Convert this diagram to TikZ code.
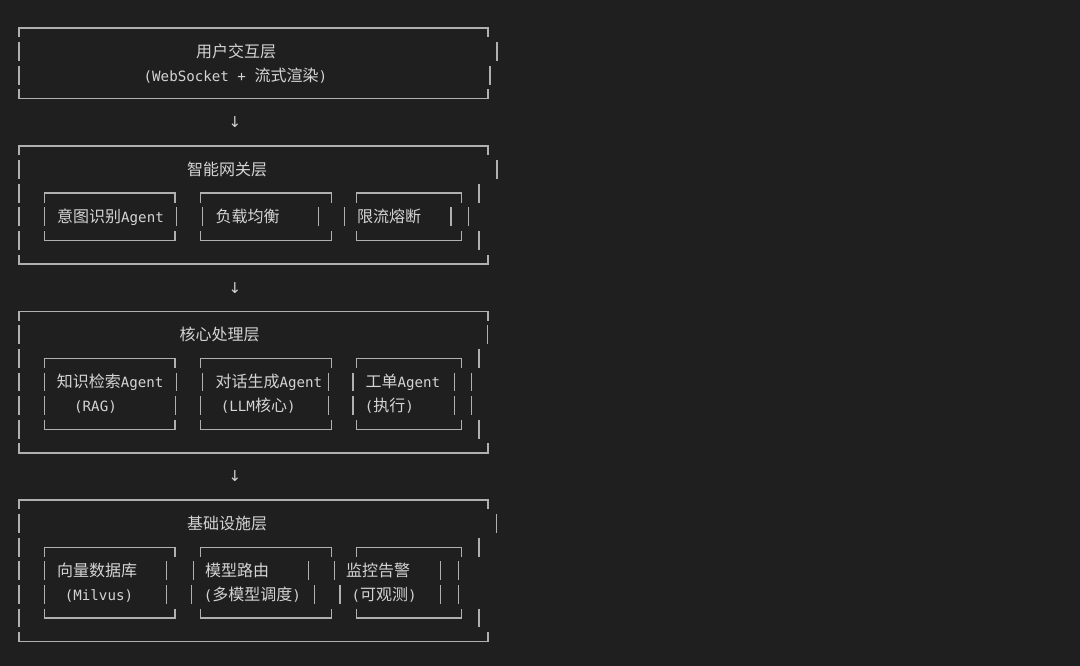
\documentclass[tikz,border=0pt]{standalone}
\usepackage{fontspec}
\newfontfamily\cjk{Noto Sans CJK SC}
\newfontfamily\mono{DejaVu Sans Mono}[Scale=0.885]
\newfontfamily\sym{DejaVu Sans}
\definecolor{bgcol}{HTML}{1F1F1F}
\definecolor{lncol}{HTML}{B0B0B0}
\definecolor{txtcol}{HTML}{D4D4D4}
\newcommand\zh[1]{{\cjk #1}}
% vertical bar at x, row
\newcommand\vb[2]{\draw[ln] (#1,#2-0.4) -- (#1,#2+0.4);}
% top edge with corner ticks: x1, x2, row
\newcommand\tl[3]{\draw[ln] (#1,#3+0.4) -- (#1,#3) -- (#2,#3) -- (#2,#3+0.4);}
% bottom edge with corner ticks: x1, x2, row
\newcommand\bl[3]{\draw[ln] (#1,#3-0.4) -- (#1,#3) -- (#2,#3) -- (#2,#3-0.4);}
\newcommand\tx[4]{\node[lbl] (#1) at (#2,#3+0.25) {#4};}
\tikzset{
  ln/.style={draw=lncol, line width=1.4pt, line cap=butt},
  lbl/.style={anchor=base west, inner sep=0pt, text=txtcol, font=\fontsize{16}{18}\selectfont\mono},
  arr/.style={anchor=center, inner sep=0pt, text=txtcol, font=\fontsize{15}{17}\selectfont\sym}
}
\begin{document}
\begin{tikzpicture}[x=1pt,y=-23.6pt]
\fill[bgcol] (0,-1.18644) rectangle (1080,27.0339);
\useasboundingbox (0,-1.18644) rectangle (1080,27.0339);

% ---------- Box 1: 用户交互层 ----------
\tl{19}{488}{0}
\vb{19}{1} \vb{497}{1}
\tx{t1}{196}{1}{\zh{用户交互层}}
\vb{19}{2} \vb{490}{2}
\tx{t1b}{143.5}{2}{(WebSocket + \zh{流式渲染})}
\bl{19}{488}{3}

\node[arr] (a1) at (235,4) {↓};

% ---------- Box 2: 智能网关层 ----------
\tl{19}{488}{5}
\vb{19}{6} \vb{497}{6}
\tx{t2}{187}{6}{\zh{智能网关层}}
\vb{19}{7} \vb{479}{7}
\tl{44.3}{175}{7} \tl{200.3}{331.7}{7} \tl{356.3}{461.7}{7}
\vb{19}{8}
\vb{44.3}{8} \tx{g1}{57}{8}{\zh{意图识别}Agent} \vb{176.7}{8}
\vb{202.3}{8} \tx{g2}{215.3}{8}{\zh{负载均衡}} \vb{318.3}{8}
\vb{344.3}{8} \tx{g3}{357}{8}{\zh{限流熔断}} \vb{451}{8}
\vb{468.3}{8}
\vb{19}{9} \vb{479}{9}
\bl{44.3}{175}{9} \bl{200.3}{331.7}{9} \bl{356.3}{461.7}{9}
\bl{19}{488}{10}

\node[arr] (a2) at (235,11) {↓};

% ---------- Box 3: 核心处理层 ----------
\tl{19}{488}{12}
\vb{19}{13} \vb{487.7}{13}
\tx{t3}{179.3}{13}{\zh{核心处理层}}
\vb{19}{14} \vb{479}{14}
\tl{44.3}{175}{14} \tl{200.3}{331.7}{14} \tl{356.3}{461.7}{14}
\vb{19}{15}
\vb{44.3}{15} \tx{c1}{56.6}{15}{\zh{知识检索}Agent} \vb{176.7}{15}
\vb{202.3}{15} \tx{c2}{215.3}{15}{\zh{对话生成}Agent} \vb{328.3}{15}
\vb{353}{15} \tx{c3}{365.3}{15}{\zh{工单}Agent} \vb{454.3}{15}
\vb{471.7}{15}
\vb{19}{16}
\vb{44.3}{16} \tx{c1b}{74}{16}{(RAG)} \vb{175.7}{16}
\vb{200.7}{16} \tx{c2b}{220.7}{16}{(LLM\zh{核心})} \vb{328.3}{16}
\vb{353}{16} \tx{c3b}{364.7}{16}{(\zh{执行})} \vb{454.3}{16}
\vb{471.7}{16}
\vb{19}{17} \vb{479}{17}
\bl{44.3}{175}{17} \bl{200.3}{331.7}{17} \bl{356.3}{461.7}{17}
\bl{19}{488}{18}

\node[arr] (a3) at (235,19) {↓};

% ---------- Box 4: 基础设施层 ----------
\tl{19}{488}{20}
\vb{19}{21} \vb{496.7}{21}
\tx{t4}{187}{21}{\zh{基础设施层}}
\vb{19}{22} \vb{479}{22}
\tl{44.3}{175}{22} \tl{200.3}{331.7}{22} \tl{356.3}{461.7}{22}
\vb{19}{23}
\vb{44.3}{23} \tx{i1}{57}{23}{\zh{向量数据库}} \vb{166.7}{23}
\vb{193.3}{23} \tx{i2}{205}{23}{\zh{模型路由}} \vb{308.3}{23}
\vb{334.3}{23} \tx{i3}{346}{23}{\zh{监控告警}} \vb{440.7}{23}
\vb{458.3}{23}
\vb{19}{24}
\vb{44.3}{24} \tx{i1b}{64.7}{24}{(Milvus)} \vb{166.7}{24}
\vb{191.7}{24} \tx{i2b}{203.7}{24}{(\zh{多模型调度})} \vb{314.3}{24}
\vb{340}{24} \tx{i3b}{351.3}{24}{(\zh{可观测})} \vb{440.7}{24}
\vb{458.3}{24}
\vb{19}{25} \vb{479}{25}
\bl{44.3}{175}{25} \bl{200.3}{331.7}{25} \bl{356.3}{461.7}{25}
\bl{19}{488}{26}
\end{tikzpicture}
\end{document}
